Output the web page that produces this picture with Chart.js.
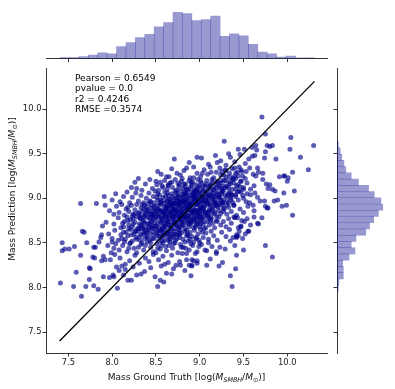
<!DOCTYPE html>
<html>
<head>
<meta charset="utf-8">
<script src="https://cdn.jsdelivr.net/npm/chart.js@4.4.1/dist/chart.umd.min.js"></script>
<style>
  html, body { margin: 0; padding: 0; background: #fff; }
  #wrap { position: relative; width: 395px; height: 389px; }
  #wrap canvas { position: absolute; left: 0; top: 0; }
</style>
</head>
<body>
<div id="wrap">
  <canvas id="topHist" width="395" height="389"></canvas>
  <canvas id="sideHist" width="395" height="389"></canvas>
  <canvas id="joint" width="395" height="389"></canvas>
</div>
<script>
// ---- data ----
const axisTicks = [7.5, 8.0, 8.5, 9.0, 9.5, 10.0];
const tickLabels = ['7.5', '8.0', '8.5', '9.0', '9.5', '10.0'];
const statLines = ['Pearson = 0.6549', 'pvalue = 0.0', 'r2 = 0.4246', 'RMSE =0.3574'];
const identityEnds = [7.40, 10.31];
const xRange = [7.245, 10.453];
const yRange = [7.265, 10.46];

// ground truth histogram (top)
const truthBinStart = 7.405;
const truthBinWidth = 0.1075;
const truthCounts = [3, 3, 6, 10, 17, 14, 36, 48, 63, 73, 95, 108, 139, 135, 114, 117, 128, 67, 74, 68, 43, 19, 14, 4, 7, 2, 2];

// prediction histogram (right), low -> high
const predBinStart = 7.955;
const predBinWidth = 0.0700;
const predCounts = [4, 6, 20, 20, 18, 38, 57, 45, 60, 91, 103, 116, 131, 145, 139, 118, 100, 68, 45, 28, 22, 15, 10, 4];

// [ground truth, prediction]
const massPairs = [
  // sparse edges
  [7.41,8.05],[7.56,8.01],[7.65,7.90],[7.70,8.01],[7.79,8.02],[7.84,7.98],[7.74,8.09],[7.59,8.17],[7.43,8.50],[7.43,8.41],
  [7.46,8.43],[7.51,8.43],[7.57,8.46],[7.64,8.36],[7.66,8.63],[7.68,8.62],[7.71,8.50],[7.64,8.94],[7.82,8.94],[7.91,9.02],
  [7.92,8.92],[7.74,8.22],[7.75,8.21],[7.79,8.45],[7.81,8.45],[7.78,8.34],[7.80,8.33],[7.85,8.51],[7.87,8.56],[7.88,8.59],
  [7.89,8.69],[7.93,8.73],[7.90,8.12],[7.97,8.11],[8.06,7.99],[8.01,8.14],[8.02,8.12],[7.90,8.35],[7.92,8.31],[7.88,8.30],
  [7.98,8.31],[7.99,8.39],[8.04,8.49],[8.02,8.44],[8.09,8.33],[8.11,8.24],[8.08,8.19],[8.18,8.08],[8.22,8.08],[8.28,8.14],
  [8.33,8.15],[8.13,8.14],[8.52,8.01],[8.59,8.06],[8.55,8.08],[8.62,8.16],[8.68,8.15],[8.73,8.25],[8.77,8.29],[8.85,8.31],
  [8.91,8.25],[8.97,8.27],[8.93,8.30],
  [8.71,9.44],[8.97,9.46],[8.30,9.22],[8.56,9.27],[8.74,9.28],[8.85,9.34],[8.51,9.15],[8.64,9.15],[8.28,9.11],
  [9.28,9.64],[9.71,9.91],[10.04,9.68],[10.30,9.59],[10.03,9.55],[10.15,9.46],[10.24,9.32],[9.87,9.44],[9.75,9.52],[9.80,9.58],
  [9.77,9.59],[10.06,9.29],[9.91,9.24],[9.97,9.25],[10.01,9.23],[9.66,9.34],[9.60,9.47],[9.64,9.59],[9.60,9.57],[9.51,9.55],
  [9.44,9.55],[9.74,9.45],[9.65,9.54],[9.75,9.72],[9.83,9.59],[10.08,9.08],[10.06,8.81],[9.96,9.06],[9.99,8.92],[9.94,8.91],
  [10.00,9.19],[9.96,9.25],[9.86,9.08],[9.83,9.10],[9.89,8.98],[9.85,8.97],[9.77,8.89],[9.71,8.78],[9.67,8.71],[9.56,8.63],
  [9.47,8.68],[9.44,8.58],[9.38,8.56],[9.42,8.56],[9.35,8.52],[9.75,8.47],[9.83,8.34],[9.42,8.36],[9.23,8.45],[9.48,8.75],
  [9.54,8.77],[9.43,8.78],[9.40,8.78],[9.64,9.25],[9.67,9.29],[9.72,9.28],[9.72,9.21],[9.76,9.16],[9.78,9.11],[9.80,9.15],
  [9.66,9.01],[9.69,8.97],[9.74,8.97],[9.78,8.89],[9.75,8.91],[9.61,8.92],[9.57,8.95],
  [9.66,8.72],[9.55,8.63],[9.45,8.63],[9.47,8.69],[9.42,8.57],[9.42,8.59],[9.41,8.21],[9.35,8.13],[9.37,8.01],[9.22,8.24],
  [9.08,8.25],[8.97,8.30],[8.91,8.31],[8.88,8.25],[8.91,8.24],[8.78,8.25],[8.80,8.38],[8.85,8.38],[8.95,8.38],[8.97,8.40],
  [8.81,8.45],[8.84,8.44],[9.06,8.42],[9.08,8.41],[9.19,8.38],[9.19,8.40],[9.14,8.46],[8.99,8.46],[9.02,8.48],[8.93,8.51],
  [8.99,8.53],
  // 8.10 - 8.24
  [8.15,8.20],[8.24,8.23],[8.37,8.18],[8.44,8.22],[8.49,8.12],[8.70,8.21],[8.83,8.19],[8.05,8.23],[8.56,8.24],[8.90,8.13],
  // 8.24 - 8.38
  [8.20,8.30],[8.26,8.36],[8.31,8.27],[8.38,8.33],[8.42,8.29],[8.47,8.37],[8.53,8.31],[8.58,8.35],[8.64,8.28],[8.68,8.36],
  [8.03,8.37],[8.15,8.26],[9.12,8.32],[9.26,8.28],[8.60,8.26],
  // 8.38 - 8.52
  [8.08,8.42],[8.12,8.47],[8.17,8.40],[8.21,8.50],[8.25,8.44],[8.28,8.39],[8.33,8.48],[8.36,8.42],[8.40,8.51],[8.44,8.45],
  [8.47,8.40],[8.51,8.49],[8.55,8.43],[8.58,8.50],[8.62,8.41],[8.65,8.47],[8.69,8.44],[8.72,8.50],[8.75,8.39],[8.78,8.48],
  [8.88,8.42],[8.90,8.49],[9.10,8.50],[9.29,8.43],[9.40,8.47],[7.95,8.47],[8.00,8.51],[8.30,8.45],[8.50,8.39],[8.66,8.51],
  [8.38,8.47],[8.14,8.51],[9.50,8.42],[8.19,8.44],[8.56,8.47],
  [8.52,8.44],[8.57,8.52],[8.61,8.46],[8.66,8.57],[8.70,8.49],[8.74,8.55],[8.79,8.45],[8.83,8.51],[8.87,8.58],[8.92,8.47],
  [8.96,8.56],[9.00,8.50],[8.64,8.53],[8.77,8.59],[8.89,8.54],
  // 8.52 - 8.66
  [7.96,8.60],[8.00,8.55],[8.03,8.64],[8.07,8.53],[8.10,8.59],[8.13,8.62],[8.15,8.54],[8.18,8.58],[8.21,8.65],[8.23,8.52],
  [8.25,8.60],[8.27,8.56],[8.30,8.63],[8.32,8.53],[8.33,8.59],[8.35,8.66],[8.37,8.55],[8.39,8.61],[8.40,8.57],[8.42,8.64],
  [8.43,8.53],[8.45,8.59],[8.47,8.62],[8.48,8.55],[8.50,8.65],[8.51,8.58],[8.53,8.52],[8.54,8.61],[8.56,8.56],[8.57,8.64],
  [8.59,8.59],[8.60,8.53],[8.62,8.62],[8.63,8.57],[8.65,8.65],[8.66,8.54],[8.68,8.60],[8.69,8.56],[8.71,8.63],[8.72,8.53],
  [8.74,8.59],[8.76,8.65],[8.77,8.56],[8.79,8.61],[8.81,8.54],[8.83,8.63],[8.85,8.58],[8.87,8.52],[8.89,8.62],[8.91,8.57],
  [8.94,8.64],[8.96,8.55],[8.98,8.60],[9.01,8.65],[9.04,8.56],[9.07,8.61],[9.10,8.54],[9.13,8.63],[9.16,8.58],[9.20,8.53],
  [9.25,8.62],[9.30,8.57],[9.34,8.65],[9.49,8.55],[9.52,8.60],[8.46,8.55],[8.58,8.62],[8.70,8.58],[8.36,8.62],[8.86,8.60],
  [8.26,8.63],[9.03,8.62],[8.64,8.60],[8.52,8.63],
  // 8.66 - 8.80
  [8.02,8.71],[8.07,8.78],[8.10,8.67],[8.14,8.74],[8.17,8.79],[8.19,8.70],[8.21,8.76],[8.23,8.68],[8.26,8.73],[8.28,8.79],
  [8.29,8.66],[8.31,8.71],[8.32,8.77],[8.34,8.69],[8.35,8.74],[8.37,8.80],[8.38,8.67],[8.40,8.72],[8.41,8.78],[8.42,8.70],
  [8.44,8.75],[8.45,8.67],[8.46,8.79],[8.48,8.72],[8.49,8.68],[8.50,8.76],[8.52,8.71],[8.53,8.79],[8.54,8.66],[8.55,8.74],
  [8.57,8.69],[8.58,8.77],[8.59,8.72],[8.60,8.67],[8.62,8.80],[8.63,8.74],[8.64,8.70],[8.65,8.77],[8.67,8.68],[8.68,8.73],
  [8.69,8.79],[8.70,8.71],[8.72,8.66],[8.73,8.76],[8.74,8.70],[8.75,8.74],[8.77,8.79],[8.78,8.68],[8.79,8.73],[8.80,8.77],
  [8.81,8.70],[8.83,8.66],[8.84,8.75],[8.85,8.79],[8.86,8.71],[8.88,8.68],[8.89,8.76],[8.90,8.72],[8.92,8.79],[8.93,8.67],
  [8.94,8.74],[8.96,8.70],[8.97,8.78],[8.99,8.73],[9.00,8.68],[9.02,8.76],[9.04,8.71],[9.05,8.79],[9.07,8.67],[9.09,8.74],
  [9.11,8.70],[9.13,8.78],[9.15,8.72],[9.17,8.67],[9.19,8.75],[9.22,8.79],[9.24,8.70],[9.27,8.74],[9.30,8.68],[9.33,8.77],
  [9.36,8.72],[9.39,8.79],[9.44,8.67],[9.51,8.74],[9.58,8.70],[9.62,8.79],[8.12,8.72],[8.36,8.75],[8.56,8.78],[8.71,8.75],
  [8.87,8.73],[9.01,8.71],[8.47,8.69],[8.61,8.71],[8.82,8.79],[8.95,8.76],[9.12,8.75],[8.33,8.66],[8.24,8.77],
  // 8.80 - 8.94
  [7.97,8.86],[8.02,8.82],[8.05,8.91],[8.08,8.84],[8.11,8.93],[8.14,8.81],[8.16,8.88],[8.19,8.85],[8.22,8.92],[8.24,8.82],
  [8.26,8.87],[8.28,8.93],[8.30,8.84],[8.32,8.80],[8.33,8.89],[8.35,8.85],[8.37,8.92],[8.38,8.82],[8.40,8.87],[8.41,8.94],
  [8.43,8.83],[8.44,8.89],[8.46,8.86],[8.47,8.81],[8.49,8.91],[8.50,8.85],[8.52,8.88],[8.53,8.82],[8.55,8.93],[8.56,8.86],
  [8.57,8.80],[8.59,8.90],[8.60,8.84],[8.61,8.88],[8.63,8.92],[8.64,8.82],[8.65,8.86],[8.67,8.90],[8.68,8.81],[8.69,8.85],
  [8.71,8.93],[8.72,8.87],[8.73,8.83],[8.75,8.89],[8.76,8.80],[8.77,8.85],[8.78,8.91],[8.80,8.84],[8.81,8.88],[8.82,8.94],
  [8.84,8.82],[8.85,8.86],[8.86,8.90],[8.87,8.81],[8.89,8.87],[8.90,8.92],[8.91,8.84],[8.93,8.89],[8.94,8.80],[8.95,8.86],
  [8.97,8.93],[8.98,8.83],[8.99,8.88],[9.01,8.91],[9.02,8.82],[9.03,8.86],[9.05,8.90],[9.06,8.84],[9.08,8.94],[9.09,8.81],
  [9.11,8.87],[9.12,8.92],[9.14,8.83],[9.15,8.89],[9.17,8.85],[9.19,8.80],[9.20,8.91],[9.22,8.86],[9.24,8.83],[9.26,8.93],
  [9.28,8.88],[9.31,8.82],[9.33,8.90],[9.36,8.85],[9.39,8.92],[9.42,8.81],[9.46,8.88],[9.50,8.84],[9.55,8.91],[9.62,8.86],
  [8.45,8.92],[8.58,8.84],[8.66,8.93],[8.74,8.85],[8.83,8.90],[8.92,8.85],[9.00,8.87],[9.10,8.84],[8.79,8.82],[8.62,8.90],
  [8.88,8.93],[8.96,8.81],[8.70,8.88],[8.54,8.86],[9.04,8.88],[9.18,8.93],[8.36,8.88],[8.18,8.90],[9.27,8.85],[8.48,8.83],
  // 8.94 - 9.08
  [8.00,8.98],[8.04,9.05],[8.09,8.96],[8.13,9.02],[8.17,9.07],[8.20,8.95],[8.23,9.01],[8.27,9.06],[8.30,8.97],[8.33,9.03],
  [8.36,8.95],[8.39,9.00],[8.42,9.06],[8.44,8.96],[8.47,9.02],[8.49,9.08],[8.52,8.98],[8.54,9.04],[8.56,8.95],[8.58,9.01],
  [8.60,9.07],[8.62,8.97],[8.64,9.03],[8.66,8.99],[8.68,9.05],[8.70,8.94],[8.71,9.00],[8.73,9.06],[8.75,8.97],[8.76,9.02],
  [8.78,9.08],[8.79,8.95],[8.81,9.01],[8.82,9.05],[8.84,8.98],[8.85,9.03],[8.87,8.94],[8.88,9.00],[8.90,9.07],[8.91,8.96],
  [8.92,9.02],[8.94,9.05],[8.95,8.98],[8.96,9.03],[8.98,8.95],[8.99,9.00],[9.00,9.06],[9.02,8.97],[9.03,9.02],[9.04,9.08],
  [9.06,8.95],[9.07,9.01],[9.08,9.05],[9.10,8.98],[9.11,9.03],[9.12,8.94],[9.14,9.00],[9.15,9.06],[9.17,8.97],[9.18,9.02],
  [9.20,9.07],[9.21,8.95],[9.23,9.01],[9.25,9.05],[9.27,8.98],[9.29,9.03],[9.31,8.96],[9.33,9.06],[9.35,9.00],[9.38,8.95],
  [9.41,9.04],[9.44,8.98],[9.47,9.07],[9.50,9.00],[9.53,8.96],[9.58,9.04],[9.63,9.06],[8.86,9.04],[8.93,8.99],[9.01,9.03],
  [8.74,9.01],[8.97,9.07],[9.05,8.99],[9.13,9.04],[8.69,8.97],[8.80,9.04],[9.09,9.01],[9.16,8.96],[8.89,8.95],[8.61,9.02],
  [8.77,8.99],[9.22,9.04],[8.51,9.01],[8.83,9.07],[9.26,8.95],[8.57,8.97],[9.36,9.03],[8.94,9.01],
  // 9.08 - 9.22
  [8.22,9.12],[8.26,9.18],[8.34,9.09],[8.38,9.16],[8.43,9.21],[8.46,9.11],[8.50,9.19],[8.53,9.09],[8.57,9.14],[8.60,9.20],
  [8.63,9.10],[8.66,9.17],[8.69,9.12],[8.72,9.21],[8.74,9.09],[8.77,9.15],[8.79,9.19],[8.81,9.11],[8.84,9.16],[8.86,9.09],
  [8.88,9.20],[8.90,9.13],[8.92,9.18],[8.94,9.10],[8.96,9.15],[8.98,9.21],[9.00,9.12],[9.02,9.17],[9.04,9.09],[9.06,9.14],
  [9.08,9.20],[9.10,9.11],[9.12,9.16],[9.14,9.21],[9.16,9.10],[9.18,9.15],[9.20,9.19],[9.22,9.12],[9.24,9.17],[9.26,9.09],
  [9.28,9.14],[9.30,9.20],[9.33,9.11],[9.35,9.16],[9.38,9.21],[9.41,9.10],[9.44,9.15],[9.47,9.19],[9.50,9.12],[9.54,9.17],
  [9.58,9.10],[9.62,9.14],[8.91,9.15],[9.01,9.19],[9.11,9.13],[8.97,9.11],[9.21,9.17],[8.83,9.13],[9.07,9.16],[9.31,9.13],
  [8.75,9.17],[9.15,9.18],[9.25,9.20],[8.64,9.14],
  [8.52,9.05],[8.58,9.12],[8.63,9.06],[8.68,9.18],[8.72,9.08],[8.76,9.13],[8.80,9.22],[8.85,9.10],[8.90,9.18],[8.95,9.08],
  [8.99,9.14],[8.55,9.18],[8.65,9.24],[8.82,9.16],[8.93,9.23],
  // 9.22 - 9.36
  [8.52,9.30],[8.62,9.24],[8.68,9.33],[8.78,9.26],[8.82,9.31],[8.89,9.23],[8.93,9.35],[8.97,9.28],[9.01,9.24],[9.05,9.32],
  [9.09,9.27],[9.12,9.35],[9.16,9.23],[9.19,9.29],[9.23,9.34],[9.27,9.26],[9.30,9.31],[9.34,9.24],[9.37,9.33],[9.41,9.28],
  [9.45,9.35],[9.49,9.25],[9.53,9.30],[9.57,9.34],[9.61,9.27],[9.13,9.29],[9.25,9.30],[9.39,9.24],[9.03,9.28],[9.47,9.32],
  // 9.36 - 9.50
  [8.88,9.40],[9.02,9.45],[9.10,9.38],[9.18,9.48],[9.24,9.42],[9.30,9.37],[9.35,9.46],[9.40,9.41],[9.46,9.49],[9.52,9.39],
  [9.56,9.44],[9.20,9.40],[9.63,9.48],[9.33,9.50],
  // dense core, left part
  [8.11,8.55],[8.13,8.68],[8.16,8.62],[8.18,8.75],[8.20,8.49],[8.22,8.59],[8.24,8.71],[8.26,8.82],[8.28,8.54],[8.30,8.66],
  [8.32,8.78],[8.34,8.50],[8.36,8.60],[8.37,8.72],[8.39,8.84],[8.40,8.56],[8.42,8.67],[8.44,8.50],[8.19,8.66],[8.27,8.63],
  [8.33,8.70],[8.38,8.64],[8.23,8.80],[8.31,8.57],
  [8.41,8.62],[8.43,8.71],[8.44,8.83],[8.46,8.66],[8.47,8.77],[8.48,8.90],[8.50,8.60],[8.51,8.69],[8.52,8.81],[8.53,8.93],
  [8.55,8.64],[8.56,8.73],[8.57,8.85],[8.58,8.58],[8.60,8.68],[8.61,8.79],[8.62,8.91],[8.63,8.62],[8.64,8.74],[8.66,8.84],
  [8.67,8.95],[8.68,8.66],[8.69,8.77],[8.70,8.88],[8.72,8.60],[8.73,8.70],[8.74,8.81],[8.75,8.92],[8.77,8.64],[8.78,8.75],
  [8.79,8.86],[8.80,8.97],[8.45,8.74],[8.49,8.86],[8.54,8.57],[8.59,8.83],[8.65,8.70],[8.71,8.94],[8.76,8.68],[8.42,8.79],
  [8.31,8.83],[8.34,8.93],[8.36,8.79],[8.39,8.90],[8.41,8.86],[8.43,8.97],[8.46,8.81],[8.48,8.95],[8.50,8.79],[8.53,8.88],
  [8.55,8.98],[8.57,8.76],[8.59,8.94],[8.61,8.81],[8.63,8.88],[8.65,8.99],[8.67,8.84],[8.69,8.93],[8.71,8.79],[8.73,8.98],
  [8.75,8.86],[8.77,8.95],[8.79,8.81],[8.81,8.96],
  [8.58,8.66],[8.62,8.75],[8.67,8.63],[8.71,8.72],[8.76,8.61],[8.80,8.70],[8.85,8.64],[8.90,8.74],[8.95,8.68],[9.00,8.76],
  [9.05,8.66],[9.10,8.78],
  // dense core, middle
  [8.81,8.73],[8.82,8.82],[8.83,8.95],[8.84,9.06],[8.85,8.77],[8.86,8.88],[8.87,9.00],[8.88,9.11],[8.89,8.71],[8.90,8.83],
  [8.91,8.94],[8.92,9.04],[8.93,8.76],[8.94,8.87],[8.95,8.99],[8.96,9.09],[8.97,8.72],[8.98,8.84],[8.99,8.96],[9.00,9.07],
  [9.01,8.79],[9.02,8.90],[9.03,9.01],[9.04,9.13],[9.05,8.74],[9.06,8.85],[9.07,8.97],[9.08,9.08],[9.09,8.80],[9.10,8.92],
  [9.11,9.03],[9.12,9.14],[9.13,8.77],[9.14,8.88],[9.15,8.99],[9.16,9.10],[9.17,8.83],[9.18,8.95],[9.19,9.05],[9.20,8.74],
  [8.87,8.90],[8.93,9.07],[9.00,8.82],[9.06,9.05],[9.11,8.86],[9.16,9.02],[8.84,8.98],[8.97,8.93],[9.03,8.78],[9.09,8.96],
  [8.61,8.86],[8.63,8.97],[8.65,8.79],[8.67,8.91],[8.69,9.02],[8.71,8.83],[8.73,8.94],[8.75,9.04],[8.77,8.78],[8.79,8.90],
  [8.81,9.01],[8.83,8.85],[8.85,8.96],[8.87,8.80],[8.89,8.92],[8.91,9.03],[8.93,8.84],[8.95,8.93],[8.97,9.02],[8.99,8.79],
  [9.01,8.88],[9.03,8.97],[9.05,8.91],[9.07,8.83],[8.66,8.95],[8.72,8.88],[8.78,8.97],[8.84,8.91],[8.90,8.77],[8.96,8.86],
  [9.02,8.95],[8.70,8.80],[8.76,8.93],[8.82,8.79],[8.88,8.87],[8.94,8.98],
  // dense core, right part
  [9.21,8.90],[9.22,9.02],[9.23,9.14],[9.24,9.26],[9.26,8.96],[9.27,9.08],[9.28,9.20],[9.29,9.32],[9.31,8.92],[9.32,9.04],
  [9.33,9.16],[9.34,9.28],[9.36,8.98],[9.37,9.10],[9.38,9.22],[9.40,9.34],[9.41,9.02],[9.42,9.14],[9.44,9.25],[9.45,9.08],
  [9.47,9.19],[9.48,9.30],[9.50,9.10],[9.52,9.22],[9.54,9.05],[9.25,9.11],[9.30,9.24],[9.35,9.06],[9.39,9.17],[9.43,9.29],
  [9.21,9.00],[9.23,8.93],[9.25,9.07],[9.27,8.89],[9.29,9.12],[9.31,9.01],[9.33,8.95],[9.35,9.19],[9.37,9.04],[9.39,8.92],
  [9.41,9.22],[9.43,9.07],[9.46,9.13],[9.49,9.03],[9.19,9.12],[9.17,8.92],[9.13,9.08],[9.24,8.98]
];

// ---- styles ----
const fontFamily = '"DejaVu Sans", sans-serif';
const spineColor = '#333333';
const histFill = 'rgba(0, 0, 139, 0.4)';
const tickFont = { family: fontFamily, size: 8.4 };

function fixTicks(scale) {
  scale.ticks = axisTicks.map(v => ({ value: v }));
}

function axisStyle(extra) {
  return Object.assign({
    type: 'linear',
    offset: false,
    afterBuildTicks: fixTicks,
    grid: { drawOnChartArea: false, drawTicks: true, tickLength: 3.5, color: spineColor, tickWidth: 1, offset: false },
    border: { display: true, color: spineColor, width: 1 }
  }, extra);
}

// text drawn in pieces so the subscripts work
function drawRich(ctx, parts, cx, cy, angle) {
  ctx.save();
  ctx.translate(cx, cy);
  ctx.rotate(angle);
  let total = 0;
  parts.forEach(p => { ctx.font = p.font; p.w = ctx.measureText(p.text).width; total += p.w; });
  let x = -total / 2;
  ctx.textBaseline = 'alphabetic';
  ctx.fillStyle = '#111';
  parts.forEach(p => { ctx.font = p.font; ctx.fillText(p.text, x, p.dy || 0); x += p.w; });
  ctx.restore();
}

function massLabel(prefix) {
  const n = '9px ' + fontFamily, it = 'italic 9px ' + fontFamily;
  const sub = 'italic 6.4px ' + fontFamily, subN = '6.4px ' + fontFamily;
  return [
    { text: prefix + ' [log(', font: n },
    { text: 'M', font: it },
    { text: 'SMBH', font: sub, dy: 2 },
    { text: '/', font: n },
    { text: 'M', font: it },
    { text: '\u2299', font: subN, dy: 2 },
    { text: ')]', font: n }
  ];
}

const labelPlugin = {
  id: 'labels',
  afterDraw(chart) {
    const ctx = chart.ctx;
    const a = chart.chartArea;
    ctx.save();
    ctx.font = '9px ' + fontFamily;
    ctx.fillStyle = '#000';
    ctx.textBaseline = 'alphabetic';
    statLines.forEach((t, i) => ctx.fillText(t, a.left + 29, a.top + 12.6 + i * 10.45));
    ctx.restore();
    drawRich(ctx, massLabel('Mass Ground Truth'), (a.left + a.right) / 2, 380, 0);
    drawRich(ctx, massLabel('Mass Prediction'), 15, 189, -Math.PI / 2);
  }
};

const common = {
  responsive: false,
  animation: false,
  events: [],
  plugins: { legend: { display: false }, tooltip: { enabled: false } }
};

// ---- joint scatter ----
new Chart(document.getElementById('joint'), {
  type: 'scatter',
  data: {
    datasets: [
      {
        data: identityEnds.map(v => ({ x: v, y: v })),
        showLine: true,
        borderColor: '#000',
        borderWidth: 1.3,
        pointRadius: 0,
        order: 0
      },
      {
        data: massPairs.map(p => ({ x: p[0], y: p[1] })),
        backgroundColor: 'rgba(0, 0, 139, 0.64)',
        pointRadius: 2.5,
        pointBorderWidth: 0,
        borderWidth: 0,
        order: 1
      }
    ]
  },
  options: Object.assign({}, common, {
    layout: { padding: { left: 0, top: 68, right: 68, bottom: 0 } },
    scales: {
      x: axisStyle({
        min: xRange[0], max: xRange[1],
        afterFit: s => { s.height = 36; },
        ticks: { callback: (v, i) => tickLabels[i], font: tickFont, color: '#222', padding: 1.5, maxRotation: 0 }
      }),
      y: axisStyle({
        min: yRange[0], max: yRange[1],
        afterFit: s => { s.width = 46; },
        ticks: { callback: (v, i) => tickLabels[i], font: tickFont, color: '#222', padding: 1 }
      })
    }
  }),
  plugins: [labelPlugin]
});

// ---- top histogram (ground truth) ----
new Chart(document.getElementById('topHist'), {
  type: 'bar',
  data: {
    datasets: [{
      data: truthCounts.map((c, i) => ({ x: truthBinStart + truthBinWidth * (i + 0.5), y: c })),
      backgroundColor: histFill,
      borderWidth: 0,
      barPercentage: 1,
      categoryPercentage: 1
    }]
  },
  options: Object.assign({}, common, {
    layout: { padding: { left: 46, top: 10, right: 68, bottom: 389 - 58.5 - 4 } },
    scales: {
      x: axisStyle({
        min: xRange[0], max: xRange[1],
        afterFit: s => { s.height = 4; },
        ticks: { display: false }
      }),
      y: { display: false, min: 0, max: 146 }
    }
  })
});

// ---- right histogram (prediction) ----
new Chart(document.getElementById('sideHist'), {
  type: 'bar',
  data: {
    datasets: [{
      data: predCounts.map((c, i) => ({ y: predBinStart + predBinWidth * (i + 0.5), x: c })),
      backgroundColor: histFill,
      borderWidth: 0,
      barPercentage: 1,
      categoryPercentage: 1
    }]
  },
  options: Object.assign({}, common, {
    indexAxis: 'y',
    layout: { padding: { left: 333, top: 68, right: 10, bottom: 36 } },
    scales: {
      x: { display: false, min: 0, max: 152 },
      y: axisStyle({
        position: 'left',
        min: yRange[0], max: yRange[1],
        afterFit: s => { s.width = 4; },
        ticks: { display: false }
      })
    }
  })
});
</script>
</body>
</html>
